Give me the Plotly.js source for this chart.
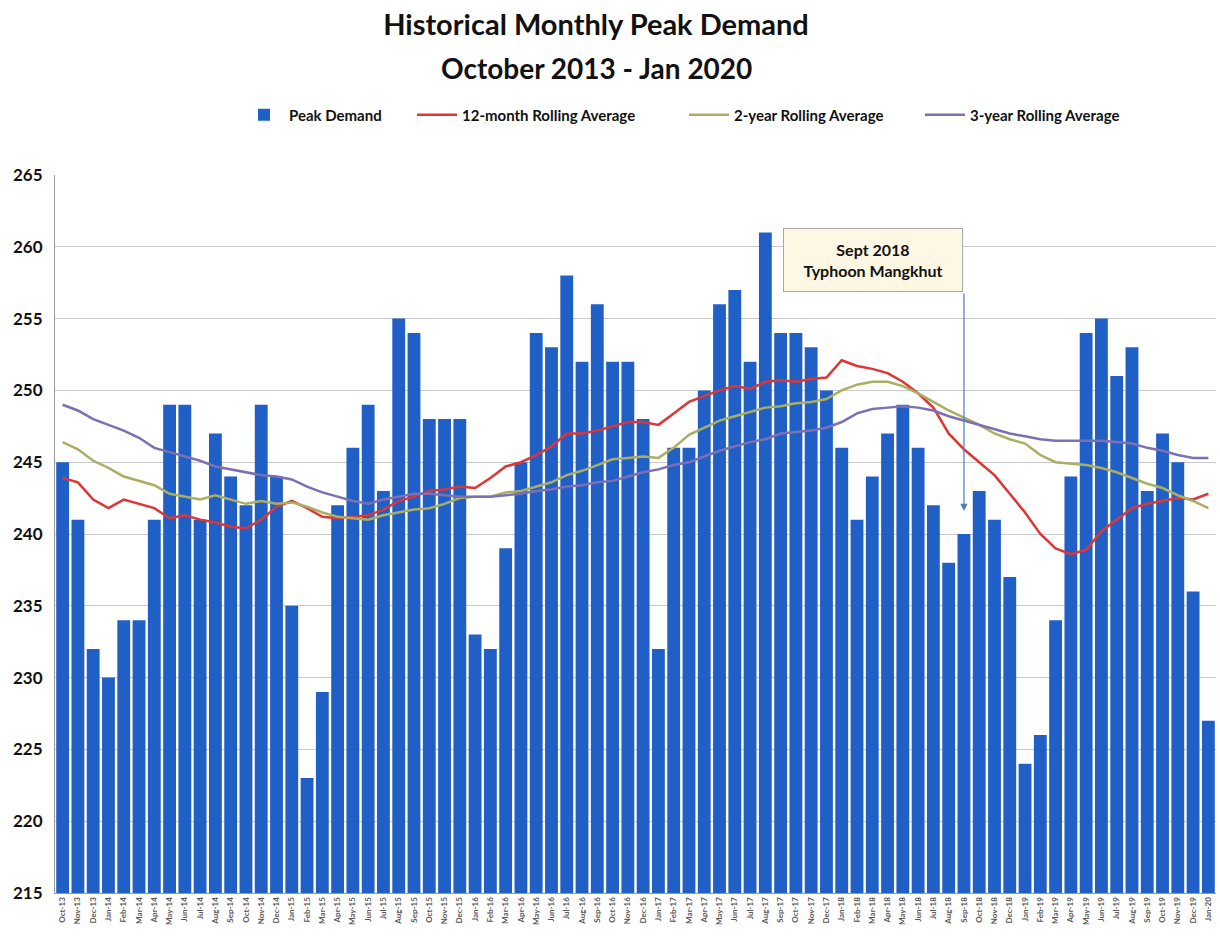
<!DOCTYPE html>
<html>
<head>
<meta charset="utf-8">
<script src="https://cdn.plot.ly/plotly-3.0.1.min.js"></script>
<style>html,body{margin:0;padding:0;background:#fff;}#chart{width:1220px;height:937px;}</style>
</head>
<body>
<div id="chart"></div>
<script>
var months = ["Oct-13","Nov-13","Dec-13",
"Jan-14","Feb-14","Mar-14","Apr-14","May-14","Jun-14","Jul-14","Aug-14","Sep-14","Oct-14","Nov-14","Dec-14",
"Jan-15","Feb-15","Mar-15","Apr-15","May-15","Jun-15","Jul-15","Aug-15","Sep-15","Oct-15","Nov-15","Dec-15",
"Jan-16","Feb-16","Mar-16","Apr-16","May-16","Jun-16","Jul-16","Aug-16","Sep-16","Oct-16","Nov-16","Dec-16",
"Jan-17","Feb-17","Mar-17","Apr-17","May-17","Jun-17","Jul-17","Aug-17","Sep-17","Oct-17","Nov-17","Dec-17",
"Jan-18","Feb-18","Mar-18","Apr-18","May-18","Jun-18","Jul-18","Aug-18","Sep-18","Oct-18","Nov-18","Dec-18",
"Jan-19","Feb-19","Mar-19","Apr-19","May-19","Jun-19","Jul-19","Aug-19","Sep-19","Oct-19","Nov-19","Dec-19",
"Jan-20"];

var peakDemand = [245,241,232,
230,234,234,241,249,249,241,247,244,242,249,244,
235,223,229,242,246,249,243,255,254,248,248,248,
233,232,239,245,254,253,258,252,256,252,252,248,
232,246,246,250,256,257,252,261,254,254,253,250,
246,241,244,247,249,246,242,238,240,243,241,237,
224,226,234,244,254,255,251,253,243,247,245,236,
227];

var rolling12 = [243.9,243.6,242.4,241.8,242.4,242.1,241.8,241.1,241.3,241.0,240.8,240.5,240.4,241.0,241.9,242.3,241.8,241.2,241.1,241.2,241.3,241.7,242.3,242.6,
243.0,243.1,243.3,243.2,243.9,244.7,245.0,245.5,246.1,247.0,247.0,247.2,247.5,247.8,247.8,247.6,248.4,249.2,249.6,250.0,250.3,250.1,250.6,250.7,250.6,250.8,
250.9,252.1,251.7,251.5,251.2,250.6,249.8,248.8,247.0,245.9,245.0,244.1,242.8,241.5,240.0,239.0,238.6,238.9,240.2,241.0,241.8,242.1,242.3,242.5,242.4,242.8];

var rolling2y = [246.4,245.9,245.1,244.6,244.0,243.7,243.4,242.8,242.6,242.4,242.7,242.4,242.1,242.3,242.1,242.2,241.9,241.5,241.2,241.1,241.0,241.3,241.5,241.7,
241.8,242.1,242.5,242.6,242.6,242.9,243.0,243.3,243.6,244.1,244.4,244.8,245.2,245.3,245.4,245.3,246.0,246.9,247.4,247.9,248.2,248.5,248.8,248.9,249.1,249.2,
249.4,250.0,250.4,250.6,250.6,250.3,249.8,249.2,248.6,248.1,247.6,247.0,246.6,246.3,245.5,245.0,244.9,244.8,244.6,244.3,243.9,243.5,243.2,242.7,242.3,241.8];

var rolling3y = [249.0,248.6,248.0,247.6,247.2,246.7,246.0,245.7,245.4,245.1,244.7,244.5,244.3,244.1,244.0,243.8,243.3,242.9,242.6,242.3,242.1,242.4,
242.6,242.8,242.8,242.7,242.6,242.6,242.6,242.7,242.8,243.0,243.1,243.3,243.4,243.6,243.7,244.0,244.3,244.5,244.8,245.0,245.4,245.8,246.1,246.4,246.6,247.0,247.1,247.2,
247.4,247.8,248.4,248.7,248.8,248.9,248.8,248.6,248.2,247.9,247.6,247.3,247.0,246.8,246.6,246.5,246.5,246.5,246.5,246.4,246.3,246.0,245.8,245.5,245.3,245.3];

var FONT = 'Lato, "Open Sans", Arial, sans-serif';

var traces = [
  {type:'bar', name:'Peak Demand', x:months, y:peakDemand, legend:'legend',
   marker:{color:'#2060c6', line:{width:0}}},
  {type:'scatter', mode:'lines', name:'12-month Rolling Average', x:months, y:rolling12, legend:'legend2',
   line:{color:'#de3535', width:2.5}},
  {type:'scatter', mode:'lines', name:'2-year Rolling Average', x:months, y:rolling2y, legend:'legend3',
   line:{color:'#aaae62', width:2.5}},
  {type:'scatter', mode:'lines', name:'3-year Rolling Average', x:months, y:rolling3y, legend:'legend4',
   line:{color:'#7d70b2', width:2.5}}
];

function leg(px) {
  return {orientation:'h', x:(px-55)/1161, xanchor:'left', y:(893-115)/718, yanchor:'middle',
          font:{family:FONT, size:15, weight:'bold', color:'#111'}, itemwidth:40, bgcolor:'rgba(0,0,0,0)'};
}

var layout = {
  width:1220, height:937,
  margin:{l:55, r:4, t:175, b:44},
  paper_bgcolor:'#ffffff', plot_bgcolor:'#ffffff',
  font:{family:FONT, color:'#111'},
  showlegend:true,
  bargap:0.16,
  hovermode:false,
  title:{text:'Historical Monthly Peak Demand', x:596/1220, xanchor:'center', y:1-25/937, yanchor:'middle',
         font:{family:FONT, size:29, weight:'bold', color:'#111'}},
  legend:leg(239), legend2:leg(412), legend3:leg(684), legend4:leg(920),
  xaxis:{type:'category', tickangle:-90, tickfont:{family:FONT, size:8, weight:'bold', color:'#555'},
         showline:true, linecolor:'#9a9a9a', showgrid:false, ticks:'', automargin:false},
  yaxis:{range:[215,265], dtick:5, tick0:215, tickfont:{family:FONT, size:17, weight:'bold', color:'#111'},
         ticklabelstandoff:8,
         showline:true, linecolor:'#9a9a9a', gridcolor:'#c9c9c9', gridwidth:1, zeroline:false, ticks:'', automargin:false},
  annotations:[
    {xref:'paper', yref:'paper', x:(596-55)/1161, y:(893-68)/718, xanchor:'center', yanchor:'middle', showarrow:false,
     text:'October 2013 - Jan 2020', font:{family:FONT, size:28, weight:'bold', color:'#111'}},
    {xref:'paper', yref:'paper', x:(873-55)/1161, y:(893-260)/718, xanchor:'center', yanchor:'middle', showarrow:false,
     text:'Sept 2018<br>Typhoon Mangkhut', width:176, height:60, bgcolor:'#fdf7e3', bordercolor:'#a8a8a8', borderwidth:1,
     font:{family:FONT, size:16, weight:'bold', color:'#111'}},
    {xref:'x', yref:'y', x:'Sep-18', y:241.6, ax:0, ay:-219, text:'', showarrow:true,
     arrowcolor:'#4a7cc0', arrowwidth:1.2, arrowhead:2, arrowsize:1.2, standoff:0}
  ]
};

Plotly.newPlot('chart', traces, layout, {displayModeBar:false, staticPlot:true});
</script>
</body>
</html>
